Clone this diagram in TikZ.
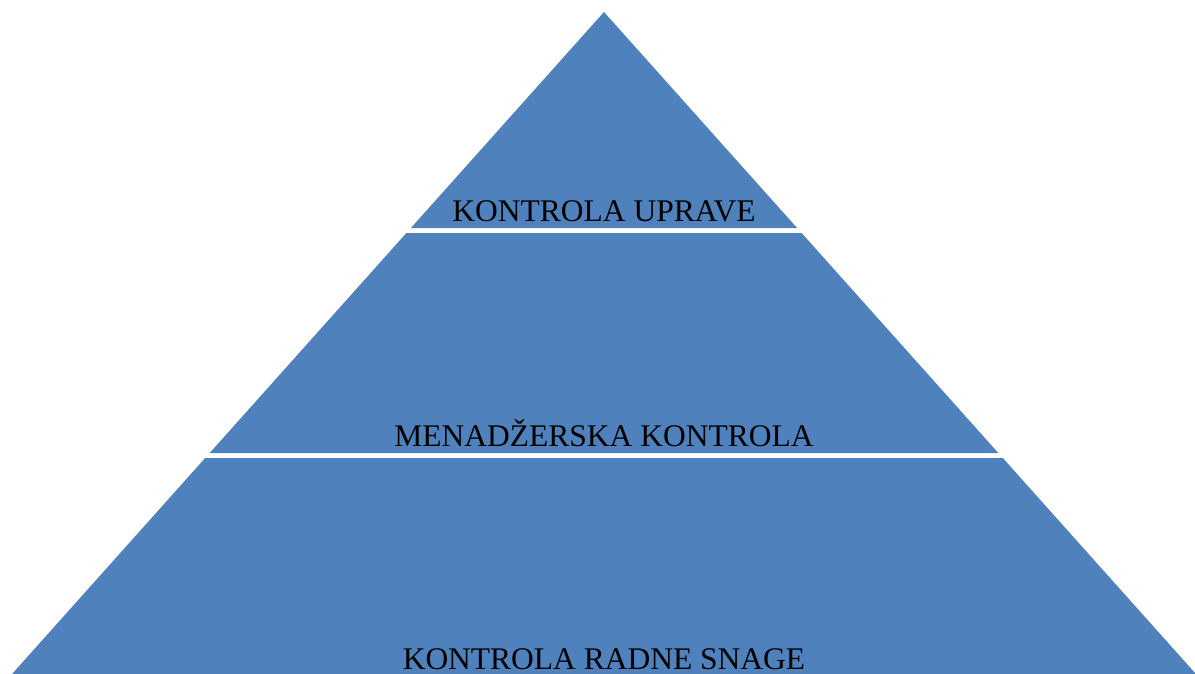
\documentclass[tikz,border=0pt]{standalone}
\usepackage{fontspec}
\setmainfont{Liberation Serif}
\definecolor{tierblue}{HTML}{4F81BD}
\tikzset{
  tier/.style={fill=tierblue, draw=none},
  tierlabel/.style={anchor=base, inner sep=0pt, text=black, font=\fontsize{31.5}{36}\selectfont}
}
\begin{document}
\begin{tikzpicture}[x=1pt,y=-1pt]
\fill[white] (0,0) rectangle (1195,673);
\useasboundingbox (0,0) rectangle (1195,673);
\clip (0,0) rectangle (1195,673);
% tiers
\fill[tier] (604,12) -- (797.1,228) -- (410.9,228) -- cycle;
\fill[tier] (406.4,233) -- (801.6,233) -- (998.3,453) -- (209.7,453) -- cycle;
\fill[tier] (205.2,458) -- (1002.8,458) -- (1201.3,680) -- (6.7,680) -- cycle;
% labels
\node[tierlabel] (top) at (604,221) {KONTROLA UPRAVE};
\node[tierlabel] (mid) at (604,446) {MENADŽERSKA KONTROLA};
\node[tierlabel] (bot) at (604,669) {KONTROLA RADNE SNAGE};
\end{tikzpicture}
\end{document}
